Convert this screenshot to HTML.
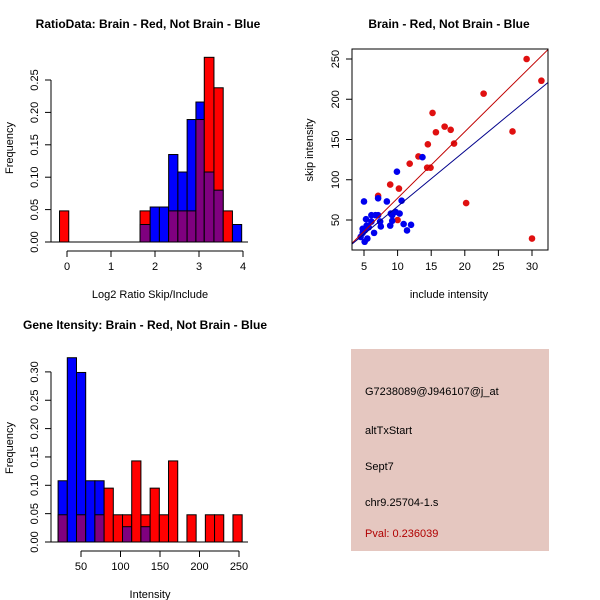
<!DOCTYPE html>
<html><head><meta charset="utf-8"><style>
body{margin:0;background:#fff;}
svg{display:block;font-family:"Liberation Sans",sans-serif;}
</style></head><body>
<svg id="c" width="600" height="600" viewBox="0 0 600 600">
<rect x="351" y="349" width="198" height="202" fill="#e5c7c0"/>
<g font-size="11">
<text x="365" y="395">G7238089@J946107@j_at</text>
<text x="365" y="434">altTxStart</text>
<text x="365" y="470">Sept7</text>
<text x="365" y="506">chr9.25704-1.s</text>
<text x="365" y="537" fill="#b00000">Pval: 0.236039</text>
</g>
</svg>
<script>
// Plot 1 data
const h1RedEdges=[-0.17,0.04];
const h1RedFirst=[0.048];
const h1Edges=[1.66,1.89,2.10,2.31,2.52,2.73,2.93,3.12,3.34,3.55,3.76,3.97];
const h1Red=[0.048,0,0,0.048,0.048,0.048,0.189,0.285,0.238,0.048,0];
const h1Blue=[0.027,0.054,0.054,0.135,0.108,0.189,0.216,0.108,0.080,0,0.027];
const h1YTicks=[0,0.05,0.10,0.15,0.20,0.25];
const h1XTicks=[0,1,2,3,4];
// Plot 3 data
const h3Start=21, h3Width=11.65;
const h3Red=[0.048,0,0.048,0,0.048,0.095,0.048,0.048,0.143,0.048,0.095,0.048,0.143,0,0.048,0,0.048,0.048,0,0.048];
const h3Blue=[0.108,0.325,0.299,0.108,0.108,0,0,0.027,0,0.027,0,0,0,0,0,0,0,0,0,0];
const h3YTicks=[0,0.05,0.10,0.15,0.20,0.25,0.30];
const h3XTicks=[50,100,150,200,250];
// Plot 2 data
const redX=[29.2,31.4,22.8,15.2,17.0,17.9,15.7,27.1,18.4,14.5,13.1,11.8,14.4,14.9,8.9,10.2,7.1,10.0,20.2,30.0];
const redY=[250,223,207,183,166,162,159,160,145,144,129,120,115,115,94,89,80,50,71,27];
const blueX=[13.7,9.9,5.0,7.1,8.4,10.6,5.3,6.1,6.1,6.7,7.1,9.0,9.7,10.3,9.2,7.4,7.5,9.2,8.9,10.9,12.0,11.4,6.5,5.4,5.1,4.8,4.5,5.5,5.1,4.8,5.7];
const blueY=[128,110,73,77,73,74,51,48,56,56,56,58,60,58,56,48,42,49,43,45,44,37,34,43,37,34,29,27,23,39,41];
const redLine=[-5.4,8.25];
const blueLine=[-2,6.88];
const sXTicks=[5,10,15,20,25,30];
const sYTicks=[50,100,150,200,250];

const svg=document.getElementById('c');
const NS='http://www.w3.org/2000/svg';
function mk(tag,attrs,parent){const e=document.createElementNS(NS,tag);for(const k in attrs)e.setAttribute(k,attrs[k]);(parent||svg).appendChild(e);return e;}
function txt(s,x,y,o,parent){const e=mk('text',Object.assign({x:x,y:y},o||{}),parent);e.textContent=s;return e;}
const PURPLE='#7f007f';

function histo(g,edges,red,blue,sx,sy){
  for(let i=0;i<red.length;i++){
    const x0=sx(edges[i]),x1=sx(edges[i+1]);
    const r=red[i],b=blue[i],hi=Math.max(r,b),lo=Math.min(r,b);
    if(hi>0){
      const bar=mk('rect',{x:x0,y:sy(hi),width:x1-x0,height:sy(0)-sy(hi),fill:r>=b?'#ff0000':'#0000ff',stroke:'#000','stroke-width':1},g);
      
      
    }
    if(lo>0){
      const ov=mk('rect',{x:x0,y:sy(lo),width:x1-x0,height:sy(0)-sy(lo),fill:PURPLE,stroke:'#000','stroke-width':1},g);
      
      
    }
  }
}
function yAxis(g,ticks,sy,x,fmt){
  const ax=mk('g',{},g);
  
  
  mk('line',{x1:x,x2:x,y1:sy(ticks[0]),y2:sy(ticks[ticks.length-1]),stroke:'#000'},ax);
  ticks.forEach(t=>{
    mk('line',{x1:x-6,x2:x,y1:sy(t),y2:sy(t),stroke:'#000'},ax);
    const l=txt(fmt(t),x-13,sy(t),{'font-size':11,'text-anchor':'middle',transform:`rotate(-90 ${x-13} ${sy(t)})`},ax);
    
    
  });
}
function xAxis(g,ticks,sx,y){
  const ax=mk('g',{},g);
  
  
  mk('line',{x1:sx(ticks[0]),x2:sx(ticks[ticks.length-1]),y1:y,y2:y,stroke:'#000'},ax);
  ticks.forEach(t=>{
    mk('line',{x1:sx(t),x2:sx(t),y1:y,y2:y+6,stroke:'#000'},ax);
    const l=txt(String(t),sx(t),y+19,{'font-size':11,'text-anchor':'middle'},ax);
    
    
  });
}

// ---- Plot 1
const g1=mk('g',{});


const sx1=v=>67+v*44, sy1=v=>242-v*648;
mk('line',{x1:51,x2:248,y1:242,y2:242,stroke:'#000'},g1);
histo(g1,h1RedEdges,h1RedFirst,[0],sx1,sy1);
histo(g1,h1Edges,h1Red,h1Blue,sx1,sy1);
yAxis(g1,h1YTicks,sy1,51,t=>t.toFixed(2));
xAxis(g1,h1XTicks,sx1,251);
let t=txt('RatioData: Brain - Red, Not Brain - Blue',148,28,{'font-size':12,'font-weight':'bold','text-anchor':'middle'},g1);

t=txt('Log2 Ratio Skip/Include',150,298,{'font-size':11,'text-anchor':'middle'},g1);

t=txt('Frequency',13,148,{'font-size':11,'text-anchor':'middle',transform:'rotate(-90 13 148)'},g1);


// ---- Plot 3
const g3=mk('g',{});


const sx3=v=>81+(v-50)*0.79, sy3=v=>542-v*567;
const h3Edges=[];for(let i=0;i<=h3Red.length;i++)h3Edges.push(h3Start+h3Width*i);
mk('line',{x1:51,x2:248,y1:542,y2:542,stroke:'#000'},g3);
histo(g3,h3Edges,h3Red,h3Blue,sx3,sy3);
yAxis(g3,h3YTicks,sy3,51,t=>t.toFixed(2));
xAxis(g3,h3XTicks,sx3,551);
t=txt('Gene Itensity: Brain - Red, Not Brain - Blue',145,329,{'font-size':12,'font-weight':'bold','text-anchor':'middle'},g3);

t=txt('Intensity',150,598,{'font-size':11,'text-anchor':'middle'},g3);

t=txt('Frequency',13,448,{'font-size':11,'text-anchor':'middle',transform:'rotate(-90 13 448)'},g3);


// ---- Plot 2 scatter
const g2=mk('g',{});


const sx2=v=>364+(v-5)*6.72, sy2=v=>220-(v-50)*0.805;
const xmin=(352-364)/6.72+5, xmax=(548-364)/6.72+5;
const cp=mk('clipPath',{id:'cp2'},g2);
mk('rect',{x:352,y:49,width:196,height:201},cp);
const pg=mk('g',{'clip-path':'url(#cp2)'},g2);
redX.forEach((x,i)=>{const c=mk('circle',{cx:sx2(x),cy:sy2(redY[i]),r:3.3,fill:'#e01010'},pg);
});
blueX.forEach((x,i)=>{const c=mk('circle',{cx:sx2(x),cy:sy2(blueY[i]),r:3.3,fill:'#0000ee'},pg);
});
let ln=mk('line',{x1:sx2(xmin),y1:sy2(redLine[0]+redLine[1]*xmin),x2:sx2(xmax),y2:sy2(redLine[0]+redLine[1]*xmax),stroke:'#c00000','stroke-width':1},pg);

ln=mk('line',{x1:sx2(xmin),y1:sy2(blueLine[0]+blueLine[1]*xmin),x2:sx2(xmax),y2:sy2(blueLine[0]+blueLine[1]*xmax),stroke:'#00008b','stroke-width':1},pg);

const box=mk('rect',{x:352,y:49,width:196,height:201,fill:'none',stroke:'#000'},g2);

sXTicks.forEach(v=>{mk('line',{x1:sx2(v),x2:sx2(v),y1:250,y2:256,stroke:'#000'},g2);
const l=txt(String(v),sx2(v),270,{'font-size':11,'text-anchor':'middle'},g2);
});
sYTicks.forEach(v=>{mk('line',{x1:346,x2:352,y1:sy2(v),y2:sy2(v),stroke:'#000'},g2);
const l=txt(String(v),339,sy2(v),{'font-size':11,'text-anchor':'middle',transform:`rotate(-90 339 ${sy2(v)})`},g2);
});
t=txt('Brain - Red, Not Brain - Blue',449,28,{'font-size':12,'font-weight':'bold','text-anchor':'middle'},g2);

t=txt('include intensity',449,298,{'font-size':11,'text-anchor':'middle'},g2);

t=txt('skip intensity',313,150,{'font-size':11,'text-anchor':'middle',transform:'rotate(-90 313 150)'},g2);

</script>
</body></html>
